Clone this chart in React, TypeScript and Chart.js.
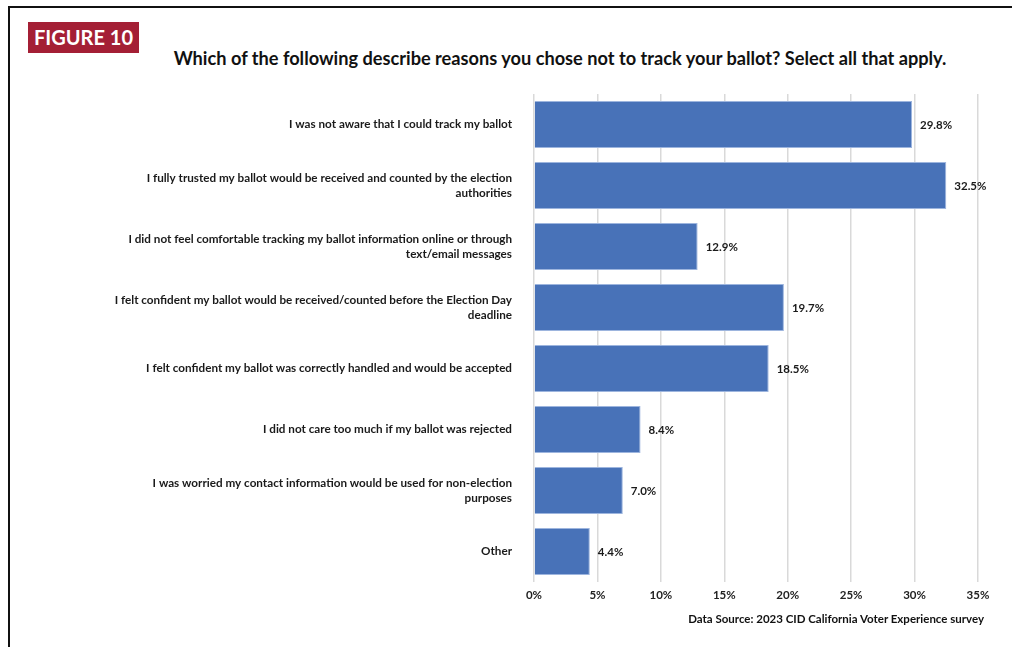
import React, { useEffect, useRef } from "react";
import { Chart, registerables } from "chart.js";

Chart.register(...registerables);

const categories: string[][] = [
  ["I was not aware that I could track my ballot"],
  ["I fully trusted my ballot would be received and counted by the election", "authorities"],
  ["I did not feel comfortable tracking my ballot information online or through", "text/email messages"],
  ["I felt confident my ballot would be received/counted before the Election Day", "deadline"],
  ["I felt confident my ballot was correctly handled and would be accepted"],
  ["I did not care too much if my ballot was rejected"],
  ["I was worried my contact information would be used for non-election", "purposes"],
  ["Other"],
];
const values: number[] = [29.8, 32.5, 12.9, 19.7, 18.5, 8.4, 7.0, 4.4];
const axisMax = 35;
const axisStep = 5;
const figureLabel = "FIGURE 10";
const titleText =
  "Which of the following describe reasons you chose not to track your ballot? Select all that apply.";
const sourceText = "Data Source: 2023 CID California Voter Experience survey";

const FONT = "Lato, 'Liberation Sans', sans-serif";

const valueLabels = {
  id: "valueLabels",
  afterDatasetsDraw(chart: any) {
    const ctx = chart.ctx;
    const meta = chart.getDatasetMeta(0);
    ctx.save();
    ctx.font = `bold 11.5px ${FONT}`;
    ctx.fillStyle = "#1a1a1a";
    ctx.textAlign = "left";
    ctx.textBaseline = "middle";
    meta.data.forEach((bar: any, i: number) => {
      ctx.fillText(values[i].toFixed(1) + "%", bar.x + 8, bar.y + 1);
    });
    ctx.restore();
  },
};

export default function App() {
  const canvasRef = useRef<HTMLCanvasElement | null>(null);

  useEffect(() => {
    if (!canvasRef.current) return;
    const chart = new Chart(canvasRef.current, {
      type: "bar",
      data: {
        labels: categories as any,
        datasets: [
          {
            data: values,
            backgroundColor: "#4872B8",
            borderColor: "#9DB5DE",
            borderWidth: 1,
            barPercentage: 0.77,
            categoryPercentage: 1,
          },
        ],
      },
      plugins: [valueLabels],
      options: {
        indexAxis: "y",
        animation: false,
        responsive: true,
        maintainAspectRatio: false,
        layout: { padding: { top: 94, right: 34, bottom: 35, left: 0 } },
        plugins: {
          legend: { display: false },
          tooltip: { enabled: false },
          title: { display: false },
        },
        scales: {
          x: {
            min: 0,
            max: axisMax,
            border: { display: false },
            grid: { color: "#d9d9d9", lineWidth: 1.5, drawTicks: false },
            ticks: {
              stepSize: axisStep,
              padding: 6,
              color: "#222",
              font: { family: FONT, size: 11.5, weight: "bold" },
              callback: (v: any) => v + "%",
            },
            afterFit: (scale: any) => {
              scale.height = 30;
            },
          },
          y: {
            border: { display: false },
            grid: { display: false, drawTicks: false },
            ticks: {
              padding: 22,
              color: "#1a1a1a",
              font: { family: FONT, size: 11.7, weight: "bold", lineHeight: 1.3 },
              crossAlign: "near",
            },
            afterFit: (scale: any) => {
              scale.width = 534;
            },
          },
        },
      } as any,
    });
    return () => chart.destroy();
  }, []);

  return (
    <div
      style={{
        position: "fixed",
        left: 0,
        top: 0,
        width: 1012,
        height: 647,
        background: "#fff",
        overflow: "hidden",
        fontFamily: FONT,
      }}
    >
      <div
        style={{
          position: "absolute",
          left: 8,
          top: 6,
          width: 1100,
          height: 700,
          borderTop: "2px solid #111",
          borderLeft: "2px solid #111",
        }}
      />
      <div
        style={{
          position: "absolute",
          left: 28,
          top: 22,
          width: 111,
          height: 31,
          background: "#A41F35",
          color: "#fff",
          fontWeight: 700,
          fontSize: 20,
          lineHeight: "31px",
          textAlign: "center",
        }}
      >
        {figureLabel}
      </div>
      <div
        style={{
          position: "absolute",
          left: 0,
          width: 1120,
          top: 46,
          textAlign: "center",
          fontWeight: 700,
          fontSize: 18.2,
          lineHeight: "24px",
          color: "#111",
          whiteSpace: "nowrap",
        }}
      >
        {titleText}
      </div>
      <div style={{ position: "absolute", left: 0, top: 0, width: 1012, height: 647 }}>
        <canvas ref={canvasRef} />
      </div>
      <div
        style={{
          position: "absolute",
          right: 28,
          top: 611,
          fontWeight: 700,
          fontSize: 11.5,
          lineHeight: "16px",
          color: "#111",
          whiteSpace: "nowrap",
        }}
      >
        {sourceText}
      </div>
    </div>
  );
}
